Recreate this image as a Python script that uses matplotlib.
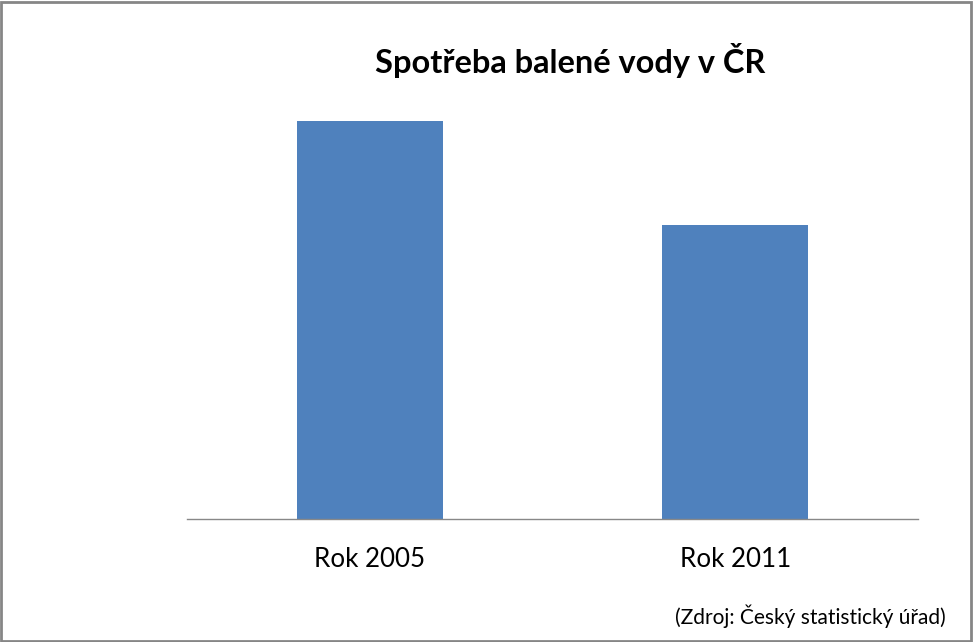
import matplotlib
matplotlib.use("Agg")
import matplotlib.pyplot as plt
from matplotlib.patches import Rectangle

categories = ["Rok 2005", "Rok 2011"]
values = [126, 93]
title = "Spotřeba balené vody v ČR"
source = "(Zdroj: Český statistický úřad)"

plt.rcParams['font.family'] = ['Lato', 'DejaVu Sans']

W, H = 973, 642
fig = plt.figure(figsize=(W/100, H/100), dpi=100)

# axes placement in pixels
x0, x1 = 187, 918
ybase = 519
ymax = 140
top_px = ybase - 398 * ymax / 126
ax = fig.add_axes([x0/W, 1 - ybase/H, (x1-x0)/W, (ybase-top_px)/H])
ax.bar(range(len(categories)), values, width=0.4, color='#4F81BD')
ax.set_xlim(-0.5, len(categories)-0.5)
ax.set_ylim(0, ymax)
ax.set_xticks(range(len(categories)))
ax.set_xticklabels(categories, fontsize=18.7, color='#000000')
ax.tick_params(axis='x', length=0, pad=20)
ax.set_yticks([])
for s in ['top', 'right', 'left']:
    ax.spines[s].set_visible(False)
ax.spines['bottom'].set_color('#888888')
ax.spines['bottom'].set_linewidth(1.0)

fig.text(570/W, 1 - 73/H, title, ha='center', va='baseline', fontsize=23.4, fontweight='bold')
fig.text(946/W, 1 - 624/H, source, ha='right', va='baseline', fontsize=15)

fig.patches.append(Rectangle((0.001, 0.0015), 0.997, 0.996, transform=fig.transFigure,
                             fill=False, edgecolor='#868686', linewidth=2))

fig.savefig("out.png", dpi=100)
